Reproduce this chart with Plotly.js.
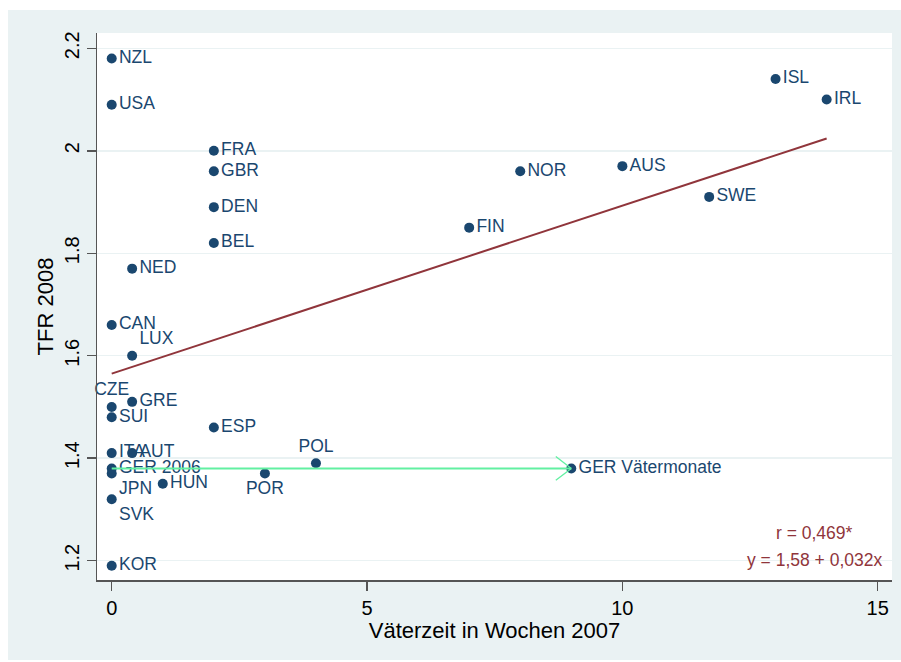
<!DOCTYPE html>
<html>
<head>
<meta charset="utf-8">
<script src="https://cdn.plot.ly/plotly-3.0.1.min.js"></script>
<style>
  html, body { margin: 0; padding: 0; background: #ffffff; }
  #chart { position: absolute; left: 8px; top: 10px; width: 893px; height: 650px; }
</style>
</head>
<body>
<div id="chart"></div>
<script>
// Country labels
const countries = ["NZL","USA","FRA","GBR","DEN","BEL","NED","CAN","LUX","CZE","GRE","SUI","ESP",
  "ITA","AUT","GER 2006","JPN","SVK","HUN","POR","POL","KOR",
  "GER Vätermonate","FIN","NOR","AUS","SWE","ISL","IRL"];
// Father's leave in weeks 2007
const weeks = [0,0,2,2,2,2,0.4,0,0.4,0,0.4,0,2,
  0,0.4,0,0,0,1,3,4,0,
  9,7,8,10,11.7,13,14];
// TFR 2008
const tfr = [2.18,2.09,2.00,1.96,1.89,1.82,1.77,1.66,1.60,1.50,1.51,1.48,1.46,
  1.41,1.41,1.38,1.37,1.32,1.35,1.37,1.39,1.19,
  1.38,1.85,1.96,1.97,1.91,2.14,2.10];
// Label placement
const labelPos = ["middle right","middle right","middle right","middle right","middle right","middle right","middle right","middle right","top right","top center","middle right","middle right","middle right",
  "middle right","middle right","middle right","bottom right","bottom right","middle right","bottom center","top center","middle right",
  "middle right","middle right","middle right","middle right","middle right","middle right","middle right"];

// Fitted regression line end points
const fitX = [0, 14];
const fitY = [1.565, 2.024];

// Arrow: GER 2006 -> GER Vätermonate
const arrowX = [0, 9];
const arrowY = [1.38, 1.38];

// Tick values
const xTicks = [0, 5, 10, 15];
const yTicks = [1.2, 1.4, 1.6, 1.8, 2.0, 2.2];
const yTickText = ["1.2", "1.4", "1.6", "1.8", "2", "2.2"];

const FONT = "Liberation Sans, Arial, Helvetica, sans-serif";
const NAVY = "#1a476f";
const MAROON = "#90353b";
const GREEN = "#62f0a2";
const BG = "#eaf2f3";

const traces = [
  {
    x: fitX, y: fitY, type: "scatter", mode: "lines",
    line: { color: MAROON, width: 2 }, hoverinfo: "skip", showlegend: false
  },
  {
    x: weeks, y: tfr, type: "scatter", mode: "markers+text",
    text: countries, textposition: labelPos,
    textfont: { family: FONT, size: 17.5, color: NAVY },
    marker: { color: NAVY, size: 10 },
    cliponaxis: false, showlegend: false
  },
  {
    x: arrowX, y: arrowY, type: "scatter", mode: "lines",
    line: { color: GREEN, width: 2 }, hoverinfo: "skip", showlegend: false
  }
];

const layout = {
  width: 893, height: 650,
  paper_bgcolor: BG, plot_bgcolor: "#ffffff",
  margin: { l: 89, r: 9, t: 23, b: 80 },
  font: { family: FONT, color: "#000000" },
  showlegend: false,
  xaxis: {
    range: [-0.288, 15.28], tickvals: xTicks, ticktext: xTicks.map(String),
    showgrid: false, zeroline: false,
    showline: true, linecolor: "#555555", linewidth: 1.5,
    ticks: "outside", ticklen: 9, tickwidth: 1.5, tickcolor: "#555555",
    tickfont: { family: FONT, size: 20, color: "#000000" },
    title: { text: "Väterzeit in Wochen 2007", font: { family: FONT, size: 22, color: "#000000" }, standoff: 0 },
    automargin: false
  },
  yaxis: {
    range: [1.1623, 2.2299], tickvals: yTicks, ticktext: yTickText,
    tickangle: -90,
    showgrid: true, gridcolor: BG, gridwidth: 1.5, zeroline: false,
    showline: true, linecolor: "#555555", linewidth: 1.5,
    ticks: "outside", ticklen: 9, tickwidth: 1.5, tickcolor: "#555555",
    tickfont: { family: FONT, size: 20, color: "#000000" },
    title: { text: "TFR 2008", font: { family: FONT, size: 22, color: "#000000" }, standoff: 1 },
    automargin: false
  },
  annotations: [
    { x: arrowX[1], y: arrowY[1], xref: "x", yref: "y", text: "", showarrow: true,
      arrowhead: 0, ax: -17, ay: -13, arrowcolor: GREEN, arrowwidth: 1.3, standoff: 0 },
    { x: arrowX[1], y: arrowY[1], xref: "x", yref: "y", text: "", showarrow: true,
      arrowhead: 0, ax: -17, ay: 13, arrowcolor: GREEN, arrowwidth: 1.3, standoff: 0 },
    { x: 0.902, y: 0.086, xref: "paper", yref: "paper", xanchor: "center", yanchor: "middle",
      text: "r = 0,469*", showarrow: false, font: { family: FONT, size: 17.5, color: MAROON } },
    { x: 0.902, y: 0.037, xref: "paper", yref: "paper", xanchor: "center", yanchor: "middle",
      text: "y = 1,58 + 0,032x", showarrow: false, font: { family: FONT, size: 17.5, color: MAROON } }
  ]
};

Plotly.newPlot("chart", traces, layout, { displayModeBar: false, staticPlot: true });
</script>
</body>
</html>
